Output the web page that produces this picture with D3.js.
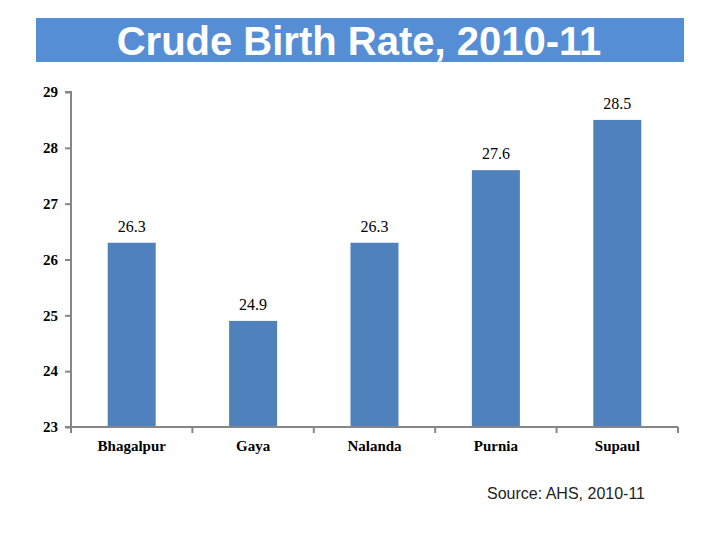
<!DOCTYPE html>
<html><head><meta charset="utf-8">
<script src="https://cdn.jsdelivr.net/npm/d3@7"></script>
<style>body{margin:0;background:#fff}
.serif{font-family:'Liberation Serif','DejaVu Serif',serif !important;font-weight:bold;font-size:15px;fill:#000}
.val{font-weight:normal;font-size:16px}
.sans{font-family:'Liberation Sans',Arial,sans-serif}
</style>
</head><body>
<svg id="c" width="720" height="540"></svg>
<script>
const categories = ["Bhagalpur","Gaya","Nalanda","Purnia","Supaul"];
const values = [26.3, 24.9, 26.3, 27.6, 28.5];
const yTicks = [23,24,25,26,27,28,29];
const titleText = "Crude Birth Rate, 2010-11";
const sourceText = "Source: AHS, 2010-11";

const svg = d3.select("#c");
svg.append("rect").attr("x",36).attr("y",18).attr("width",648).attr("height",44).attr("fill","#558ed5");
svg.append("text").attr("class","sans").attr("x",359).attr("y",55).attr("text-anchor","middle")
  .style("font-weight","bold").style("font-size","40px")
  .attr("fill","#fff").text(titleText);

const x0=71, x1=678, yTop=92, yBot=427;
const x = d3.scaleBand().domain(categories).range([x0,x1]).paddingInner(0).paddingOuter(0);
const y = d3.scaleLinear().domain([23,29]).range([yBot,yTop]);
const bw = 48;

const axisColor="#868686";
const ya = svg.append("g").attr("transform",`translate(${x0},0)`)
  .call(d3.axisLeft(y).tickValues(yTicks).tickSize(6).tickPadding(7).tickFormat(d3.format("d")));
ya.attr("font-family",null).attr("font-size",null);
ya.select(".domain").attr("stroke",axisColor).attr("stroke-width",2).attr("d",`M-6,${yTop}H0V${yBot}H-6`);
ya.selectAll(".tick line").attr("stroke",axisColor).attr("stroke-width",2);
ya.selectAll(".tick text").attr("class","serif").attr("fill","#000");

svg.selectAll("rect.bar").data(values).join("rect").attr("class","bar")
  .attr("x",(d,i)=>x(categories[i])+x.bandwidth()/2-bw/2)
  .attr("width",bw)
  .attr("y",d=>y(d)).attr("height",d=>yBot-y(d))
  .attr("fill","#4f81bd");

const xa = svg.append("g").attr("transform",`translate(0,${yBot})`)
  .call(d3.axisBottom(x).tickSize(0).tickPadding(13));
xa.attr("font-family",null).attr("font-size",null);
xa.select(".domain").attr("stroke",axisColor).attr("stroke-width",2).attr("d",`M${x0},0H${x1}`);
xa.selectAll(".tick text").attr("class","serif").attr("fill","#000");
const bounds = categories.map(c=>x(c)).concat([x1]);
svg.selectAll("line.xt").data(bounds).join("line").attr("class","xt")
  .attr("x1",d=>d).attr("x2",d=>d).attr("y1",yBot).attr("y2",yBot+6)
  .attr("stroke",axisColor).attr("stroke-width",2);

svg.selectAll("text.val").data(values).join("text").attr("class","serif val")
  .attr("x",(d,i)=>x(categories[i])+x.bandwidth()/2)
  .attr("y",d=>y(d)-11).attr("text-anchor","middle")
  .text(d=>d.toFixed(1));

svg.append("text").attr("class","sans").attr("x",566).attr("y",499).attr("text-anchor","middle")
  .style("font-size","16px").attr("fill","#222").text(sourceText);
</script>
</body></html>
